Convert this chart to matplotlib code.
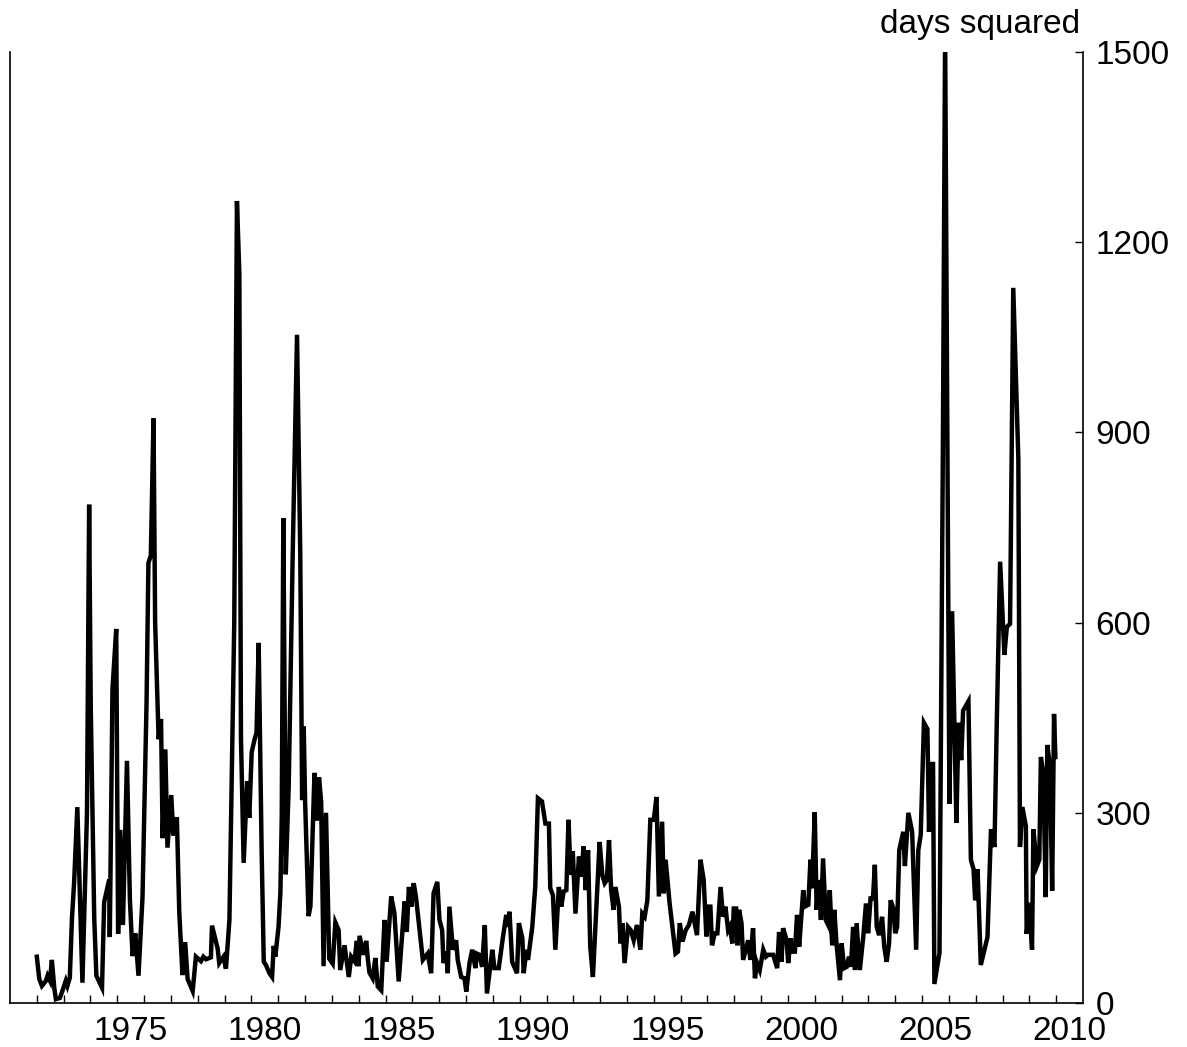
import matplotlib
matplotlib.use("Agg")
import matplotlib.pyplot as plt
import numpy as np

# time (decimal year) and value (days squared)
t = [1972.00,1972.09,1972.19,1972.34,1972.40,1972.49,1972.56,1972.65,1972.71,1972.86,1972.96,
     1973.08,1973.14,1973.23,1973.31,1973.39,1973.51,1973.70,1973.87,1973.95,1974.01,1974.14,
     1974.22,1974.43,1974.51,1974.70,1974.72,1974.82,1974.96,1975.03,1975.11,1975.21,1975.36,
     1975.47,1975.57,1975.67,1975.79,1975.94,1976.09,1976.16,1976.25,1976.35,1976.41,1976.54,
     1976.63,1976.69,1976.79,1976.87,1977.01,1977.09,1977.22,1977.31,1977.43,1977.53,1977.62,
     1977.81,1977.93,1978.12,1978.21,1978.31,1978.49,1978.53,1978.74,1978.80,1978.96,1979.05,
     1979.18,1979.36,1979.46,1979.55,1979.61,1979.71,1979.84,1979.92,1980.01,1980.13,1980.19,
     1980.27,1980.38,1980.46,1980.54,1980.67,1980.77,1980.83,1980.89,1981.01,1981.08,1981.13,
     1981.19,1981.28,1981.39,1981.54,1981.70,1981.82,1981.89,1981.95,1982.00,1982.13,1982.20,
     1982.35,1982.44,1982.52,1982.60,1982.69,1982.78,1982.90,1983.03,1983.13,1983.25,1983.31,
     1983.47,1983.63,1983.72,1983.84,1983.93,1984.00,1984.03,1984.18,1984.28,1984.34,1984.40,
     1984.52,1984.62,1984.71,1984.84,1984.96,1985.04,1985.21,1985.33,1985.49,1985.71,1985.79,
     1985.87,1985.96,1986.05,1986.14,1986.39,1986.57,1986.70,1986.79,1986.93,1987.01,1987.11,
     1987.16,1987.28,1987.32,1987.38,1987.51,1987.63,1987.69,1987.82,1987.94,1988.01,1988.13,
     1988.23,1988.35,1988.40,1988.50,1988.60,1988.70,1988.78,1988.90,1988.98,1989.06,1989.22,
     1989.37,1989.50,1989.56,1989.62,1989.72,1989.90,1989.97,1990.10,1990.15,1990.25,1990.31,
     1990.47,1990.58,1990.68,1990.83,1990.96,1991.09,1991.14,1991.24,1991.33,1991.46,1991.55,
     1991.64,1991.74,1991.82,1991.90,1991.98,1992.08,1992.21,1992.30,1992.38,1992.46,1992.55,
     1992.63,1992.73,1992.98,1993.08,1993.17,1993.25,1993.33,1993.41,1993.50,1993.57,1993.70,
     1993.76,1993.83,1993.91,1994.04,1994.14,1994.25,1994.37,1994.50,1994.57,1994.66,1994.76,
     1994.87,1995.00,1995.10,1995.19,1995.31,1995.37,1995.44,1995.59,1995.81,1995.90,1995.97,
     1996.07,1996.19,1996.31,1996.44,1996.61,1996.74,1996.86,1996.96,1997.05,1997.11,1997.17,
     1997.27,1997.37,1997.49,1997.58,1997.67,1997.77,1997.83,1997.93,1997.98,1998.07,1998.12,
     1998.18,1998.27,1998.33,1998.43,1998.52,1998.60,1998.70,1998.77,1998.85,1998.95,1999.08,
     1999.18,1999.26,1999.45,1999.60,1999.67,1999.76,1999.82,1999.95,2000.01,2000.10,2000.17,
     2000.26,2000.34,2000.42,2000.57,2000.63,2000.76,2000.84,2000.90,2001.00,2001.07,2001.15,
     2001.23,2001.31,2001.41,2001.50,2001.56,2001.65,2001.73,2001.81,2001.94,2002.00,2002.10,
     2002.19,2002.28,2002.35,2002.43,2002.50,2002.56,2002.68,2002.81,2002.91,2002.99,2003.08,
     2003.17,2003.24,2003.31,2003.40,2003.51,2003.59,2003.68,2003.77,2003.83,2003.93,2004.00,
     2004.07,2004.15,2004.30,2004.36,2004.49,2004.63,2004.78,2004.86,2004.95,2005.07,2005.20,
     2005.26,2005.32,2005.41,2005.46,2005.65,2005.77,2005.86,2006.02,2006.12,2006.28,2006.36,
     2006.46,2006.53,2006.73,2006.82,2006.92,2006.98,2007.07,2007.19,2007.44,2007.57,2007.70,
     2007.79,2007.91,2008.07,2008.16,2008.28,2008.40,2008.59,2008.65,2008.74,2008.87,2008.90,
     2009.00,2009.10,2009.15,2009.28,2009.37,2009.43,2009.52,2009.61,2009.67,2009.77,2009.85,
     2009.92,2009.97]

v = [73,38,27,35,43,35,68,24,6,8,20,
     35,27,40,134,190,309,32,301,786,468,134,
     43,24,159,195,104,495,590,109,273,123,382,
     162,74,110,43,167,473,694,706,922,601,416,
     448,260,400,245,328,264,293,143,44,96,38,
     19,73,66,73,69,72,122,86,63,73,54,
     131,601,1265,1150,418,221,350,292,396,418,426,
     568,241,65,60,47,41,90,73,120,174,292,
     765,203,342,711,1054,711,320,436,320,137,153,
     363,288,356,317,58,300,70,62,127,115,52,
     91,41,73,66,98,58,106,76,98,69,48,
     39,71,26,20,131,65,168,142,34,160,112,
     183,152,189,165,68,78,47,173,191,131,115,
     63,81,47,152,84,99,68,41,39,18,63,
     84,55,78,76,57,123,15,57,84,55,55,
     102,139,120,144,65,47,126,102,47,84,68,
     120,183,323,318,283,283,181,170,84,183,152,
     176,178,289,202,239,141,231,199,247,178,241,
     89,41,254,202,189,194,257,178,147,183,152,
     94,126,63,120,115,99,123,84,141,136,162,
     289,289,325,168,286,173,226,157,78,81,126,
     97,115,123,144,107,226,194,105,152,152,91,
     110,110,183,136,152,115,120,94,149,149,91,
     147,126,68,84,99,68,118,39,63,52,84,
     73,76,76,55,112,65,118,99,63,102,81,
     81,139,89,178,152,155,226,181,301,147,194,
     131,228,131,123,178,91,147,94,36,94,55,
     57,73,57,120,52,126,52,105,157,110,165,
     165,218,120,107,136,89,65,94,162,149,110,
     120,241,270,216,300,270,84,241,265,442,432,
     270,377,377,30,79,833,1530,314,618,284,442,
     383,461,476,226,211,162,211,60,104,274,246,
     451,696,549,593,598,1128,858,246,309,279,109,
     158,84,274,216,226,388,363,167,407,372,177,
     456,388]

year_labels = [1975, 1980, 1985, 1990, 1995, 2000, 2005, 2010]
y_ticks = [0, 300, 600, 900, 1200, 1500]

plt.rcParams['font.family'] = ['Liberation Sans', 'DejaVu Sans']

fig = plt.figure(figsize=(11.87, 10.47), dpi=100)
ax = fig.add_axes([10/1187, 1 - 1003/1047, 1073/1187, 951/1047])

ax.plot(t, v, color='black', lw=3.2, solid_joinstyle='miter')

ax.set_xlim(1971, 2011)
ax.set_ylim(0, 1500)

ax.spines['top'].set_visible(False)
for s in ['left', 'right', 'bottom']:
    ax.spines[s].set_linewidth(1.2)

# year ticks at year boundaries, labels centred in each labelled year
ax.set_xticks(np.arange(1972, 2011))
ax.set_xticklabels([])
ax.set_xticks([y + 0.5 for y in year_labels], minor=True)
ax.set_xticklabels([str(y) for y in year_labels], minor=True)
ax.tick_params(axis='x', which='major', direction='in', length=6, width=1.0)
ax.tick_params(axis='x', which='minor', length=0, labelsize=24, pad=9)

ax.yaxis.tick_right()
ax.set_yticks(y_ticks)
ax.set_yticklabels([str(y) for y in y_ticks])
ax.tick_params(axis='y', which='major', direction='in', length=6, width=1.0,
               labelsize=24, pad=9, left=False, right=True)

ax.text(0.997, 1.02, 'days squared', transform=ax.transAxes, ha='right',
        va='baseline', fontsize=24)

fig.savefig('out.png', dpi=100)
